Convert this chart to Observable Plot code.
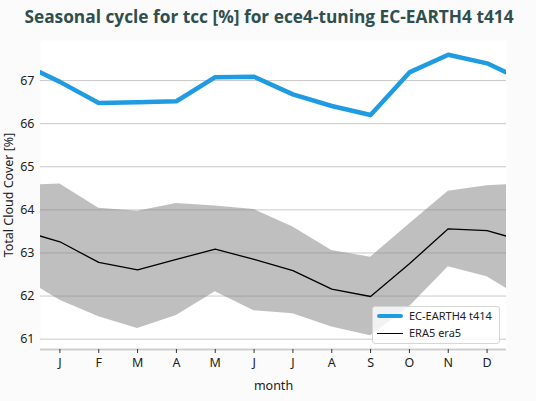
<!DOCTYPE html>
<html>
<head>
<meta charset="utf-8">
<script src="https://cdn.jsdelivr.net/npm/d3@7"></script>
<script src="https://cdn.jsdelivr.net/npm/@observablehq/plot@0.6"></script>
<style>
  html, body { margin: 0; padding: 0; background: #fbfbfb; }
  #wrap { position: relative; width: 536px; height: 401px; overflow: hidden; }
  #title { height: 34px; line-height: 34px; text-align: center; font-family: "Open Sans", "Noto Sans", sans-serif; font-weight: 700; font-size: 17.3px; color: #2f4f4f; padding-left: 2px; white-space: nowrap; }
  #legend { position: absolute; left: 372px; top: 306px; width: 126px; height: 36px; background: rgba(255,255,255,0.8); border: 1px solid #d6d6d6; border-radius: 3px; font-family: "Noto Sans", "Open Sans", sans-serif; font-size: 11px; color: #222; }
  .row { position: absolute; left: 0; height: 16px; line-height: 16px; }
  .sw { position: absolute; left: 4px; width: 26px; }
  .lab { position: absolute; left: 36px; white-space: nowrap; }
</style>
</head>
<body>
<div id="wrap">
  <div id="title">Seasonal cycle for tcc [%] for ece4-tuning EC-EARTH4 t414</div>
  <div id="chart"></div>
  <div id="legend">
    <div class="row" style="top:1px"><div class="sw" style="top:6px;height:4px;background:#1f9be2;border-radius:2px"></div><div class="lab">EC-EARTH4 t414</div></div>
    <div class="row" style="top:18px"><div class="sw" style="top:7.5px;height:1.3px;background:#000"></div><div class="lab">ERA5 era5</div></div>
  </div>
</div>
<script>
const monthLabels = ["J","F","M","A","M","J","J","A","S","O","N","D"];
const months = [1,2,3,4,5,6,7,8,9,10,11,12];
const model = [66.97, 66.48, 66.50, 66.52, 67.08, 67.09, 66.68, 66.41, 66.20, 67.19, 67.60, 67.40];
const era5 = [63.26, 62.78, 62.61, 62.85, 63.09, 62.85, 62.59, 62.16, 61.99, 62.75, 63.56, 63.52];
const era5Upper = [64.60, 64.04, 63.97, 64.15, 64.09, 64.01, 63.60, 63.06, 62.90, 63.67, 64.43, 64.56];
const era5Lower = [61.90, 61.52, 61.25, 61.55, 62.10, 61.66, 61.59, 61.28, 61.08, 61.75, 62.68, 62.45];

// cyclic table: December repeated before January, January after December
function cyc(i) { return (i + 12) % 12; }
const table = d3.range(-1, 13).map(i => ({
  m: i + 1,
  model: model[cyc(i)],
  era5: era5[cyc(i)],
  hi: era5Upper[cyc(i)],
  lo: era5Lower[cyc(i)]
}));

const yTicks = [61, 62, 63, 64, 65, 66, 67];
const yDomain = [60.76, 67.93];

const chart = Plot.plot({
  width: 536,
  height: 367,
  marginTop: 6,
  marginBottom: 52,
  marginLeft: 40,
  marginRight: 30,
  style: { fontFamily: "'Noto Sans', 'Open Sans', sans-serif", fontSize: "12px", color: "#222", background: "transparent" },
  x: { domain: [0.5, 12.5] },
  y: { domain: yDomain },
  marks: [
    Plot.frame({ fill: "white", stroke: null }),
    Plot.gridY(yTicks, { stroke: "#c8c8c8", strokeOpacity: 1, strokeWidth: 1 }),
    Plot.areaY(table, { x: "m", y1: "lo", y2: "hi", fill: "#808080", fillOpacity: 0.5, clip: true }),
    Plot.lineY(table, { x: "m", y: "era5", stroke: "black", strokeWidth: 1.3, clip: true }),
    Plot.lineY(table, { x: "m", y: "model", stroke: "#1f9be2", strokeWidth: 4.5, clip: true }),
    Plot.ruleY([yDomain[0]], { stroke: "#cfcfcf", strokeWidth: 2 }),
    Plot.axisY(yTicks, { tickSize: 0, tickPadding: 6, label: null, fontSize: 12.5 }),
    Plot.axisX(months, { tickSize: 4, tickPadding: 5, tickFormat: d => monthLabels[d - 1], label: null, stroke: "#333", fontSize: 12.5 }),
    Plot.text(["month"], { frameAnchor: "bottom", dy: 40, fontSize: 12.5, fill: "#222" }),
    Plot.text(["Total Cloud Cover [%]"], { frameAnchor: "left", textAnchor: "middle", dx: -32, rotate: -90, fontSize: 12.5, fill: "#222" })
  ]
});
document.getElementById("chart").appendChild(chart);
</script>
</body>
</html>
